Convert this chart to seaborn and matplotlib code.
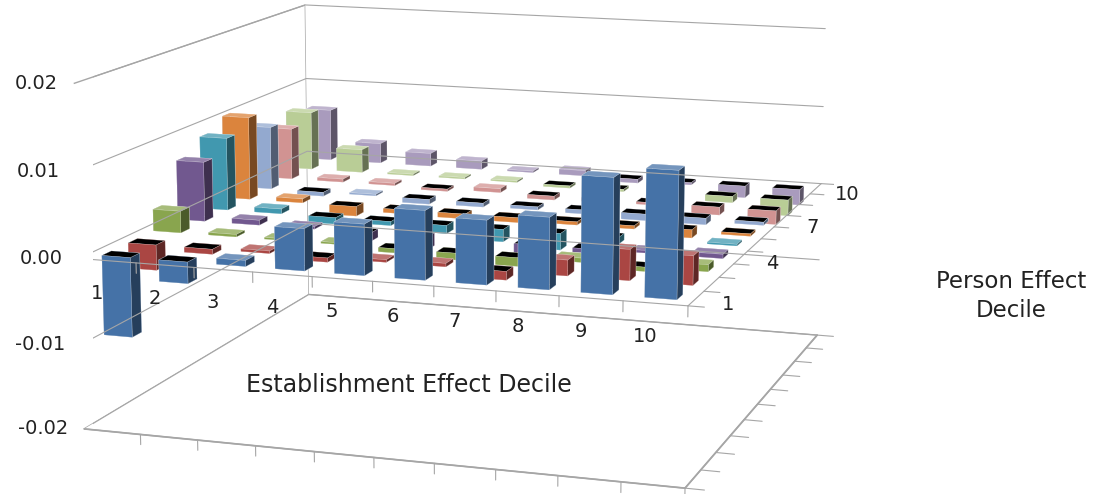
import numpy as np
import pandas as pd
import matplotlib
matplotlib.use("Agg")
import matplotlib.pyplot as plt
import matplotlib.colors as mcolors
import seaborn as sns

# categories
est_deciles = list(range(1, 11))
person_deciles = list(range(1, 11))
person_tick_labels = [1, 4, 7, 10]
z_ticks = [-0.02, -0.01, 0.0, 0.01, 0.02]

# values by establishment decile 1..10, one list per person effect decile
person_1 = [-0.0093, -0.0025, 0.0007, 0.0048, 0.0058, 0.0078, 0.0072, 0.0080, 0.0128, 0.0140]
person_2 = [-0.0030, -0.0006, 0.0003, -0.0005, 0.0003, 0.0004, -0.0010, 0.0018, 0.0035, 0.0033]
person_3 = [0.0026, 0.0003, 0.0002, 0.0002, -0.0005, -0.0008, -0.0010, 0.0005, -0.0005, 0.0008]
person_4 = [0.0072, 0.0006, 0.0003, -0.0010, -0.0015, -0.0020, -0.0015, -0.0005, 0.0003, 0.0005]
person_5 = [0.0089, 0.0006, -0.0008, -0.0005, -0.0010, -0.0015, -0.0020, -0.0008, -0.0006, 0.0002]
person_6 = [0.0103, 0.0005, -0.0012, -0.0005, -0.0006, -0.0006, -0.0004, -0.0004, -0.0010, -0.0003]
person_7 = [0.0079, -0.0005, 0.0002, -0.0006, -0.0005, -0.0004, -0.0005, -0.0008, -0.0008, -0.0004]
person_8 = [0.0065, 0.0004, 0.0003, -0.0003, 0.0005, -0.0005, -0.0004, -0.0003, -0.0010, -0.0017]
person_9 = [0.0075, 0.0030, 0.0002, 0.0002, 0.0002, -0.0003, -0.0003, -0.0003, -0.0008, -0.0020]
person_10 = [0.0067, 0.0026, 0.0017, 0.0011, 0.0002, 0.0007, -0.0005, -0.0003, -0.0015, -0.0020]

series = [person_1, person_2, person_3, person_4, person_5,
          person_6, person_7, person_8, person_9, person_10]

bar_colors = ["#4572A7", "#AA4643", "#89A54E", "#71588F", "#4198AF",
              "#DB843D", "#93A9CF", "#D19392", "#B9CD96", "#A99BBD"]


def face_colors(base, value):
    """Excel-like shading: bottom, top, front, back, left, right."""
    c = np.array(mcolors.to_rgb(base))
    top = c + (1 - c) * 0.25 if value >= 0 else np.array([0.0, 0.0, 0.0])
    dark = c * 0.55
    return [c, top, c, c, c * 0.8, dark]


sns.set_theme(style="white")
plt.rcParams["font.family"] = ["DejaVu Sans"]

rows = []
for p, vals in zip(person_deciles, series):
    for e, v in zip(est_deciles, vals):
        rows.append({"est": e, "person": p, "value": v})
df = pd.DataFrame(rows)

fig = plt.figure(figsize=(11.03, 4.94), dpi=100)
ax = fig.add_axes([-0.080, -0.213, 1.0, 1.5], projection="3d")
ax.set_proj_type("persp", focal_length=0.7)
ax.view_init(elev=12, azim=-71.5)
ax.set_box_aspect((1.84, 1.8, 1.04), zoom=1.161)

bw, bd = 0.5, 0.36
df = df.sort_values(["person", "est"], ascending=[False, True])
xs = df["est"].to_numpy() - bw / 2
ys = df["person"].to_numpy() - bd / 2
zs = np.minimum(df["value"].to_numpy(), 0)
dz = np.abs(df["value"].to_numpy())
cols = []
for p, v in zip(df["person"], df["value"]):
    cols.extend(face_colors(bar_colors[p - 1], v))
ax.bar3d(xs, ys, zs, bw, bd, dz, color=cols, shade=False,
         edgecolor=(1, 1, 1, 0.5), linewidth=0.3)

x0, x1 = 0.5, 10.5
y0, y1 = 0.5, 10.5
zmin = z_ticks[0]
ax.set_xlim(x0, x1)
ax.set_ylim(y0, y1)
ax.set_zlim(z_ticks[0], z_ticks[-1])

grid_c = "#A6A6A6"
text_c = "#222222"
ax.grid(False)
for a in (ax.xaxis, ax.yaxis, ax.zaxis):
    a.set_pane_color((1, 1, 1, 1))
    a.pane.set_edgecolor(grid_c)
    a.line.set_color(grid_c)
ax.yaxis.pane.set_edgecolor((1, 1, 1, 0))
ax.zaxis.line.set_visible(False)
ax.set_xticks([])
ax.set_yticks([])
ax.set_zticks([])

# wall gridlines at the z ticks, with tick marks on the front-left edge
for z in z_ticks:
    ax.plot([x0, x0, x1], [y0, y1, y1], [z, z, z], color=grid_c, lw=0.8)
    ax.plot([x0 - 0.25, x0], [y0, y0], [z, z], color=grid_c, lw=0.8)

# zero plane edges and floor edges with their tick marks
ax.plot([x0, x1], [y0, y0], [0, 0], color=grid_c, lw=0.8)
ax.plot([x1, x1], [y0, y1], [0, 0], color=grid_c, lw=0.8)
for b in np.arange(x0, x1 + 0.01, 1.0):
    ax.plot([b, b], [y0, y0], [0, -0.0012], color=grid_c, lw=0.8)
    ax.plot([b, b], [y0, y0], [zmin, zmin - 0.0012], color=grid_c, lw=0.8)
for b in np.arange(y0, y1 + 0.01, 1.0):
    ax.plot([x1, x1 + 0.25], [b, b], [0, 0], color=grid_c, lw=0.8)
    ax.plot([x1, x1 + 0.3], [b, b], [zmin, zmin], color=grid_c, lw=0.8)

# tick labels: project the 3D anchor to the screen and place flat text there
fig.canvas.draw()
M = ax.M
W, H = fig.bbox.width, fig.bbox.height


def label_at(x, y, z, s, dx=0, dy=0, **kw):
    v = M @ np.array([x, y, z, 1.0])
    px, py = ax.transData.transform((v[0] / v[3], v[1] / v[3]))
    fig.text((px + dx) / W, (py + dy) / H, s, fontsize=14, color=text_c, **kw)


for z in z_ticks:
    label_at(x0, y0, z, f"{z:.2f}", dx=-16, ha="right", va="center")
for e in est_deciles:
    label_at(e, y0, 0, str(e), dx=-10, dy=-33, ha="center", va="center")
for p in person_tick_labels:
    label_at(x1, p, 0, str(p), dx=32, dy=-6, ha="center", va="center")

fig.text(409 / 1103, 1 - 385 / 494, "Establishment Effect Decile", fontsize=17,
         ha="center", va="center", color=text_c)
fig.text(1011 / 1103, 1 - 296 / 494, "Person Effect\nDecile", fontsize=16.5,
         ha="center", va="center", linespacing=1.35, color=text_c)

fig.savefig("out.png", dpi=100)
